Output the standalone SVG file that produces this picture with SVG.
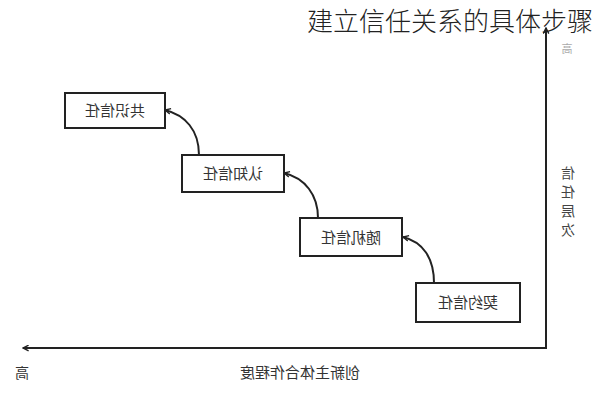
<svg xmlns="http://www.w3.org/2000/svg" width="593" height="400" viewBox="0 0 593 400">
<style>
.box{fill:#fff;stroke:#222;stroke-width:2}
.lbl{font-family:"Noto Sans CJK SC","Noto Sans",sans-serif;font-size:15px;fill:#333;text-anchor:middle}
.conn{fill:none;stroke:#222;stroke-width:2}
.ax{fill:none;stroke:#222;stroke-width:2}
</style>
<defs>
<marker id="ah" viewBox="0 0 10 10" refX="9" refY="5" markerWidth="7" markerHeight="7" orient="auto" markerUnits="userSpaceOnUse">
<path d="M1,1 L9,5 L1,9" fill="none" stroke="#222" stroke-width="2"/>
</marker>
</defs>
<rect width="593" height="400" fill="#fff"/>
<g transform="translate(593,0) scale(-1,1)">
<g id="axes">
<path class="ax" d="M47,28 L47,348 L570,348" marker-end="url(#ah)"/>
<path class="ax" d="M47,40 L47,28" marker-end="url(#ah)"/>
<text x="26" y="53" style="font-family:'Noto Sans CJK SC',sans-serif;font-size:11px;fill:#aaa" text-anchor="middle">高</text>
<g style="font-family:'Noto Sans CJK SC',sans-serif;font-size:14px;fill:#444" text-anchor="middle">
<text x="25" y="178">信</text>
<text x="25" y="197">任</text>
<text x="25" y="216">层</text>
<text x="25" y="235">次</text>
</g>
<text x="293" y="378" class="lbl" style="font-size:15px">创新主体合作程度</text>
<text x="571" y="378" class="lbl" style="font-size:14px">高</text>
</g>
<g id="connectors">
<path class="conn" d="M159,283 C159,258 170,242 190,237" marker-end="url(#ah)"/>
<path class="conn" d="M275,218 C275,195 288,178 309,173" marker-end="url(#ah)"/>
<path class="conn" d="M394,155 C394,130 408,115 428,110" marker-end="url(#ah)"/>
</g>
<g id="n1"><rect class="box" x="428" y="93" width="100" height="35"/><text class="lbl" x="478" y="116">共识信任</text></g>
<g id="n2"><rect class="box" x="309" y="155" width="102" height="37"/><text class="lbl" x="360" y="179">认知信任</text></g>
<g id="n3"><rect class="box" x="191" y="218" width="102" height="38"/><text class="lbl" x="242" y="243">随机信任</text></g>
<g id="n4"><rect class="box" x="73" y="283" width="104" height="39"/><text class="lbl" x="125" y="308">契约信任</text></g>
</g>
<text id="title" x="307" y="31" style="font-family:'Noto Sans CJK SC',sans-serif;font-size:26px;fill:#222;font-weight:300">建立信任关系的具体步骤</text>
</svg>
